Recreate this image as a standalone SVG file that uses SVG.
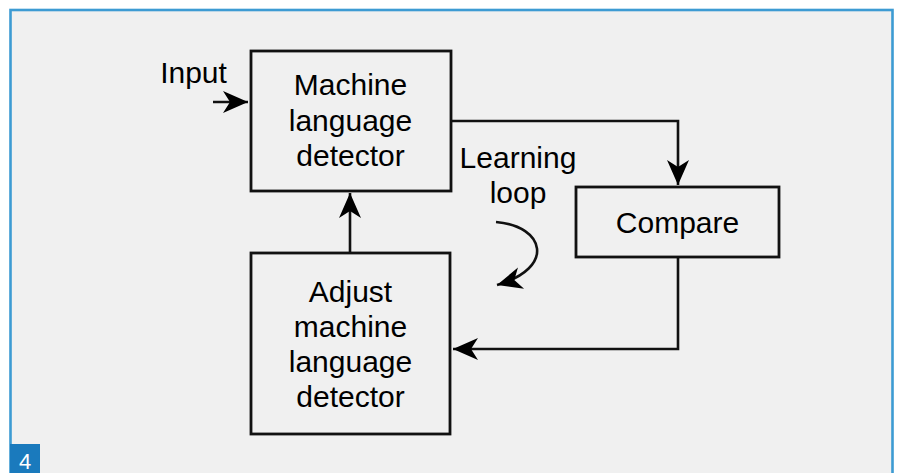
<svg xmlns="http://www.w3.org/2000/svg" width="897" height="473" viewBox="0 0 897 473">
  <style>
    .box { fill: none; stroke: #111; stroke-width: 2.8; }
    .wire { fill: none; stroke: #111; stroke-width: 2.6; }
    .lbl { font-family: "Liberation Sans", Arial, sans-serif; font-size: 30px; fill: #000; text-anchor: middle; }
    .num { font-family: "Liberation Sans", Arial, sans-serif; font-size: 22px; fill: #fff; text-anchor: middle; }
  </style>
  <defs>
    <marker id="head" markerUnits="userSpaceOnUse" markerWidth="28" markerHeight="26" refX="25" refY="12" orient="auto" viewBox="0 0 28 24">
      <path d="M25,12 L0,1 L7,12 L0,23 Z" fill="#000"/>
    </marker>
  </defs>

  <!-- panel -->
  <rect x="0" y="0" width="897" height="473" fill="#ffffff"/>
  <rect x="10.5" y="10" width="882" height="470" fill="#f0f0f0" stroke="#3d9bd3" stroke-width="2.6"/>
  <rect x="10" y="444" width="30" height="29" fill="#1a7abd"/>
  <text class="num" x="25" y="468.5">4</text>

  <!-- connectors -->
  <g id="connectors">
    <path class="wire" d="M213,102 L248,102" marker-end="url(#head)"/>
    <path class="wire" d="M451,121 L678,121 L678,185" marker-end="url(#head)"/>
    <path class="wire" d="M678,257 L678,349 L453,349" marker-end="url(#head)"/>
    <path class="wire" d="M350,253 L350,193" marker-end="url(#head)"/>
    <path class="wire" d="M496,222 C545,226 556,268 497,285" marker-end="url(#head)"/>
  </g>

  <!-- labels -->
  <g id="input-label">
    <text class="lbl" x="193.5" y="83">Input</text>
  </g>
  <g id="loop-label">
    <text class="lbl" x="518" y="168">Learning</text>
    <text class="lbl" x="518" y="202.5">loop</text>
  </g>

  <!-- nodes -->
  <g id="detector">
    <rect class="box" x="251" y="51" width="200" height="140"/>
    <text class="lbl" x="350.5" y="95">Machine</text>
    <text class="lbl" x="350.5" y="130.5">language</text>
    <text class="lbl" x="350.5" y="166">detector</text>
  </g>
  <g id="compare">
    <rect class="box" x="576" y="187" width="203" height="70"/>
    <text class="lbl" x="677.5" y="233">Compare</text>
  </g>
  <g id="adjust">
    <rect class="box" x="251" y="253" width="199" height="181"/>
    <text class="lbl" x="350.5" y="302">Adjust</text>
    <text class="lbl" x="350.5" y="336.5">machine</text>
    <text class="lbl" x="350.5" y="371.5">language</text>
    <text class="lbl" x="350.5" y="406.5">detector</text>
  </g>
</svg>
